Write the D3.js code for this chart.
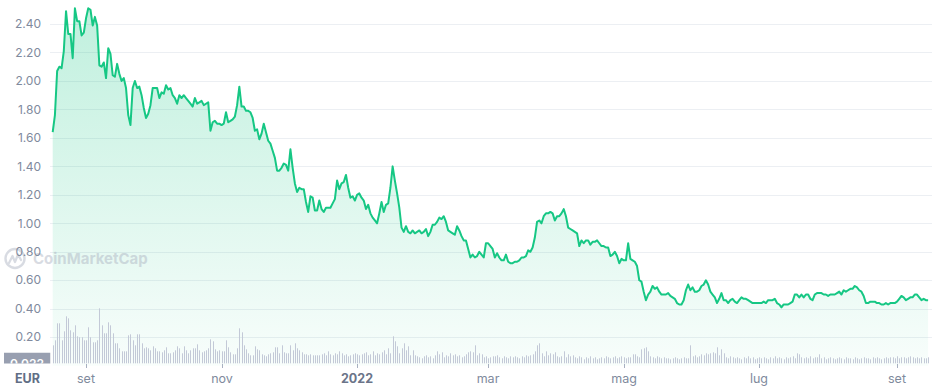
<!DOCTYPE html>
<html>
<head>
<meta charset="utf-8">
<script src="https://cdn.jsdelivr.net/npm/d3@7"></script>
<style>
  body { margin: 0; background: #fff; }
  svg { display: block; font-family: Inter, "Noto Sans", sans-serif; }
</style>
</head>
<body>
<svg width="938" height="391"></svg>
<script>
// daily closing price (EUR), one value per day starting at startDate
var startDate = "2021-08-17";

var prices = [
  1.64, 1.76, 2.07, 2.10, 2.09, 2.21, 2.49, 2.33, 2.33, 2.16, 2.51, 2.42, 2.42, 2.32, 2.34, 2.44, 2.51, 2.50, 2.39, 2.45,
  2.39, 2.11, 2.10, 2.13, 2.02, 2.23, 2.19, 2.04, 2.03, 2.12, 2.05, 2.00, 2.02, 1.95, 1.76, 1.69, 1.95, 2.00, 1.95, 1.96,
  1.90, 1.81, 1.74, 1.77, 1.83, 1.95, 1.95, 1.95, 1.88, 1.92, 1.91, 1.97, 1.94, 1.95, 1.90, 1.88, 1.84, 1.90, 1.88, 1.90,
  1.88, 1.86, 1.84, 1.82, 1.88, 1.84, 1.85, 1.86, 1.83, 1.84,
  1.85, 1.65, 1.71, 1.72, 1.70, 1.70, 1.69, 1.70, 1.78, 1.71, 1.72, 1.73, 1.75, 1.83, 1.96, 1.82, 1.82, 1.79, 1.79, 1.78,
  1.74, 1.65, 1.66, 1.59, 1.63, 1.70, 1.64, 1.58, 1.56, 1.51, 1.46, 1.37, 1.37, 1.39, 1.42, 1.41, 1.37, 1.52, 1.39, 1.28,
  1.22, 1.25, 1.24, 1.24, 1.15, 1.08, 1.19, 1.18, 1.09, 1.09, 1.16, 1.10, 1.08, 1.11, 1.11, 1.11, 1.14, 1.17, 1.30, 1.24,
  1.28, 1.29, 1.34, 1.25, 1.18, 1.19, 1.16, 1.20, 1.21, 1.18,
  1.16, 1.10, 1.13, 1.07, 1.04, 1.02, 1.00, 1.07, 1.15, 1.08, 1.13, 1.14, 1.25, 1.40, 1.30, 1.21, 1.11, 0.97, 0.94, 0.98,
  0.94, 0.93, 0.95, 0.93, 0.94, 0.95, 0.93, 0.94, 0.96, 0.91, 0.94, 0.99, 0.99, 1.01, 1.04, 1.03, 1.05, 1.01, 0.95, 0.94,
  0.93, 0.92, 0.98, 0.95, 0.91, 0.88, 0.88, 0.82, 0.76, 0.78, 0.76, 0.77, 0.80, 0.78, 0.76, 0.86, 0.86, 0.84, 0.82, 0.76,
  0.79, 0.76, 0.74, 0.74, 0.78, 0.73, 0.72, 0.72, 0.73,
  0.73, 0.74, 0.76, 0.76, 0.77, 0.81, 0.80, 0.83, 0.90, 1.01, 1.02, 1.00, 1.05, 1.07, 1.07, 1.08, 1.07, 1.02, 1.05, 1.05,
  1.07, 1.10, 1.05, 0.97, 0.96, 0.95, 0.94, 0.93, 0.84, 0.88, 0.86, 0.88, 0.88, 0.85, 0.87, 0.87, 0.88, 0.86, 0.84, 0.84,
  0.83, 0.83, 0.77, 0.78, 0.80, 0.77, 0.72, 0.75, 0.74, 0.74, 0.86, 0.75, 0.74, 0.73, 0.70, 0.60, 0.59, 0.52, 0.46, 0.50,
  0.52, 0.56, 0.54, 0.55, 0.52,
  0.50, 0.50, 0.50, 0.51, 0.49, 0.48, 0.47, 0.44, 0.43, 0.43, 0.46, 0.53, 0.57, 0.53, 0.55, 0.52, 0.52, 0.53, 0.56, 0.57,
  0.60, 0.57, 0.52, 0.50, 0.48, 0.44, 0.47, 0.51, 0.46, 0.46, 0.44, 0.46, 0.47, 0.45, 0.44, 0.46, 0.48, 0.47, 0.47, 0.46,
  0.45, 0.44, 0.44, 0.44, 0.44, 0.44, 0.45, 0.44, 0.46, 0.46, 0.46, 0.47, 0.44, 0.43, 0.41, 0.43, 0.43, 0.43, 0.44, 0.45,
  0.50, 0.50, 0.48, 0.50, 0.48, 0.50, 0.50, 0.47, 0.46, 0.50, 0.51, 0.51, 0.51, 0.50, 0.50, 0.49, 0.50, 0.50, 0.50, 0.51,
  0.52, 0.50, 0.53, 0.52, 0.53, 0.54, 0.54, 0.56, 0.55, 0.53, 0.52, 0.49, 0.44, 0.44, 0.45, 0.45, 0.45, 0.44, 0.44, 0.43,
  0.43, 0.44, 0.43, 0.44, 0.44, 0.44, 0.45, 0.47, 0.49, 0.48, 0.46, 0.47, 0.48, 0.48, 0.50, 0.50, 0.48, 0.46, 0.47, 0.46,
  0.46
];

// daily volume (relative units), same days as prices
var volumes = [
  18, 23, 40, 40, 23, 32, 47, 45, 33, 31, 38, 27, 26, 26, 23, 23, 36, 26, 21, 21,
  23, 55, 38, 30, 30, 41, 38, 30, 20, 20, 15, 12, 12, 12, 28, 29, 23, 18, 29, 29,
  20, 15, 16, 15, 13, 17, 15, 12, 12, 11, 13, 16, 10, 10, 11, 13, 17, 15, 10, 17,
  13, 10, 13, 15, 15, 19, 13, 11, 12, 13, 15, 24, 22, 14, 12, 13, 12, 12, 23, 16,
  11, 9, 9, 15, 35, 31, 18, 14, 10, 8, 8, 17, 14, 13, 9, 8, 7, 9, 10, 11,
  16, 16, 10, 18, 11, 10, 10, 18, 13, 20, 15, 13, 11, 9, 9, 8, 9, 8, 8, 8, 8,
  9, 10, 8, 12, 9, 8, 10, 9, 12, 10, 8, 9, 7, 8, 9, 10, 9, 8, 9, 10, 11, 8, 9, 12, 8, 10, 9, 11, 13, 9, 15,
  10, 27, 22, 17, 10, 15, 20, 13, 17, 8, 13, 8, 7,
  6, 5, 7, 8, 6, 7, 5, 8, 12, 9, 11, 6, 8, 7, 10, 8,
  9, 7, 8, 6, 7, 9, 11, 12, 11, 18, 8,
  10, 9, 6, 7, 5, 6, 7, 7, 8, 6, 5, 7,
  6, 5, 7, 6, 7, 6, 5, 7, 6, 8, 7, 8, 9, 12, 18, 20,
  10, 7, 12, 8, 10, 9, 11, 7, 6, 7, 12,
  6, 9, 7, 8, 6, 5, 7, 6, 4, 6, 5, 7, 5, 6, 4, 5, 6, 5, 7, 6, 5, 6, 7, 5, 6, 7, 6, 5, 6,
  6, 9, 9, 7, 6, 14, 15, 16, 12, 7, 6, 5, 7, 6, 5, 6, 5,
  5, 4, 5, 6, 5, 4, 5, 6, 5, 5, 18, 7, 8, 6, 7, 9, 8, 10, 9, 10, 11, 10, 16, 8, 14, 10,
  6, 5, 7, 6, 5, 6, 5, 4, 6, 5, 7, 5, 6, 4, 5, 6, 5, 6, 5, 4, 6, 5, 7, 5, 6, 5, 4, 6, 5, 6, 7, 5,
  10, 9, 6, 5, 6, 5, 7, 5, 6, 6, 9,
  5, 6, 4, 5, 6, 5, 4, 5, 6, 5, 4, 6, 5, 5, 4, 6, 5, 4, 5, 6, 5, 5, 4, 6, 5, 6, 5, 4, 5, 6,
  5, 6, 6, 5, 7, 5, 6, 6, 5, 6, 7, 6, 5, 6, 5, 6, 5, 5, 6
];

var yTicks = [0.2, 0.4, 0.6, 0.8, 1.0, 1.2, 1.4, 1.6, 1.8, 2.0, 2.2, 2.4];
var xTickDates = ["2021-09-01", "2021-11-01", "2022-01-01", "2022-03-01", "2022-05-01", "2022-07-01", "2022-09-01"];
var xTickLabels = ["set", "nov", "2022", "mar", "mag", "lug", "set"];
var currency = "EUR";
var lastVolumeLabel = "0.022";

var svg = d3.select("svg");
var green = "#16c784";

var start = d3.utcParse("%Y-%m-%d")(startDate);
var data = prices.map(function(p, i) {
    return { date: d3.utcDay.offset(start, i), price: p, volume: volumes[i] || 0 };
});

var x = d3.scaleUtc()
    .domain([data[0].date, data[data.length - 1].date])
    .range([52.7, 928.1]);

var y = d3.scaleLinear().domain([0, 2.4]).range([365.7, 24]);
var v = d3.scaleLinear().domain([0, 60]).range([363.3, 303.3]);

// gradient under the line
var defs = svg.append("defs");
var grad = defs.append("linearGradient")
    .attr("id", "fillGrad")
    .attr("gradientUnits", "userSpaceOnUse")
    .attr("x1", 0).attr("y1", 10).attr("x2", 0).attr("y2", 365);
grad.append("stop").attr("offset", 0).attr("stop-color", green).attr("stop-opacity", 0.27);
grad.append("stop").attr("offset", 1).attr("stop-color", green).attr("stop-opacity", 0.03);

defs.append("clipPath").attr("id", "lblClip")
    .append("rect").attr("x", 4).attr("y", 352.5).attr("width", 46.5).attr("height", 11);

// gridlines
svg.append("g").selectAll("line")
    .data(yTicks)
    .enter().append("line")
    .attr("x1", 50).attr("x2", 932)
    .attr("y1", function(d) { return Math.round(y(d)) + 0.5; })
    .attr("y2", function(d) { return Math.round(y(d)) + 0.5; })
    .attr("stroke", "#eceff3")
    .attr("stroke-width", 1);

// area + line
var area = d3.area()
    .x(function(d) { return x(d.date); })
    .y0(y(0))
    .y1(function(d) { return y(d.price); });

var line = d3.line()
    .x(function(d) { return x(d.date); })
    .y(function(d) { return y(d.price); });

svg.append("path").datum(data).attr("d", area).attr("fill", "url(#fillGrad)");

// volume bars
svg.append("g").selectAll("rect")
    .data(data)
    .enter().append("rect")
    .attr("x", function(d) { return Math.round(x(d.date)); })
    .attr("width", 1)
    .attr("y", function(d) { return v(d.volume); })
    .attr("height", function(d) { return v(0) - v(d.volume); })
    .attr("fill", "#c3c9d7");

svg.append("path").datum(data)
    .attr("d", line)
    .attr("fill", "none")
    .attr("stroke", green)
    .attr("stroke-width", 2)
    .attr("stroke-linejoin", "round");

// watermark
var wm = svg.append("g").attr("opacity", 0.45);
wm.append("circle").attr("cx", 15).attr("cy", 258.5).attr("r", 9.5)
    .attr("fill", "none").attr("stroke", "#aab1c0").attr("stroke-width", 2.4);
wm.append("path")
    .attr("d", "M9 263 L12.5 256 L15 262 L18 254.5 L21 260")
    .attr("fill", "none").attr("stroke", "#aab1c0").attr("stroke-width", 2.2)
    .attr("stroke-linejoin", "round").attr("stroke-linecap", "round");
wm.append("text").attr("x", 33).attr("y", 264)
    .attr("font-size", 15).attr("font-weight", 700)
    .attr("fill", "#aab1c0")
    .text("CoinMarketCap");

// y labels
svg.append("g").selectAll("text")
    .data(yTicks)
    .enter().append("text")
    .attr("x", 41)
    .attr("y", function(d) { return y(d); })
    .attr("dy", "0.35em")
    .attr("text-anchor", "end")
    .attr("font-size", 12)
    .attr("fill", "#808a9d")
    .text(function(d) { return d3.format(".2f")(d); });

// current volume label box
var lb = svg.append("g").attr("clip-path", "url(#lblClip)");
lb.append("rect").attr("x", 4).attr("y", 352.5).attr("width", 46.5).attr("height", 14).attr("fill", "#989fb0");
lb.append("text").attr("x", 27).attr("y", 368).attr("text-anchor", "middle")
    .attr("font-size", 12).attr("font-weight", 600).attr("fill", "#fff")
    .text(lastVolumeLabel);

// x axis
var parse = d3.utcParse("%Y-%m-%d");
var xt = svg.append("g").selectAll("g")
    .data(xTickDates)
    .enter().append("g")
    .attr("transform", function(d) { return "translate(" + Math.round(x(parse(d))) + ",0)"; });
xt.append("line").attr("x1", 0.5).attr("x2", 0.5).attr("y1", 364).attr("y2", 368)
    .attr("stroke", "#a7b0c0");
xt.append("text")
    .attr("y", 382.5)
    .attr("text-anchor", "middle")
    .attr("font-size", 12.5)
    .attr("font-weight", function(d, i) { return xTickLabels[i] === "2022" ? 700 : 400; })
    .attr("fill", function(d, i) { return xTickLabels[i] === "2022" ? "#6b7489" : "#808a9d"; })
    .text(function(d, i) { return xTickLabels[i]; });

svg.append("text").attr("x", 15).attr("y", 382.5)
    .attr("font-size", 12.5).attr("font-weight", 700).attr("fill", "#616e85")
    .text(currency);
</script>
</body>
</html>
